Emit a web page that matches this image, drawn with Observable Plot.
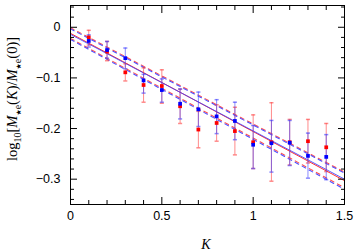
<!DOCTYPE html>
<html><head><meta charset="utf-8">
<script src="https://cdn.jsdelivr.net/npm/d3@7"></script>
<script src="https://cdn.jsdelivr.net/npm/@observablehq/plot@0.6"></script>
<style>body{margin:0;background:#fff} #chart{width:354px;height:251px}</style>
</head><body><div id="chart"></div>
<script>
// ---- data ----
const K        = [0.1, 0.2, 0.3, 0.4, 0.5, 0.6, 0.7, 0.8, 0.9, 1.0, 1.1, 1.2, 1.3, 1.4];
const redVal   = [-0.020, -0.048, -0.089, -0.114, -0.116, -0.156, -0.202, -0.189, -0.205, -0.227, -0.227, -0.227, -0.225, -0.237];
const redHi    = [-0.006, -0.028, -0.072, -0.080, -0.084, -0.122, -0.166, -0.153, -0.158, -0.173, -0.149, -0.182, -0.182, -0.190];
const redLo    = [-0.035, -0.066, -0.106, -0.148, -0.150, -0.190, -0.238, -0.225, -0.252, -0.279, -0.304, -0.272, -0.268, -0.285];
const blueVal  = [-0.027, -0.045, -0.061, -0.105, -0.124, -0.151, -0.162, -0.176, -0.185, -0.232, -0.229, -0.228, -0.254, -0.256];
const blueHi   = [-0.015, -0.028, -0.041, -0.093, -0.102, -0.122, -0.128, -0.143, -0.148, -0.194, -0.184, -0.184, -0.209, -0.212];
const blueLo   = [-0.039, -0.061, -0.082, -0.130, -0.148, -0.181, -0.196, -0.210, -0.222, -0.279, -0.286, -0.273, -0.298, -0.301];
// fitted lines, values at the two ends K = 0 and K = 1.5
const fitK       = [0, 1.5];
const redFit     = [-0.012, -0.303];
const blueFit    = [-0.014, -0.300];
const redUpper   = [-0.001, -0.286];
const redLower   = [-0.022, -0.317];
const blueUpper  = [-0.003, -0.288];
const blueLower  = [-0.024, -0.320];
// ticks
const xMajor = [0, 0.5, 1, 1.5];
const xMajorLabels = ["0", "0.5", "1", "1.5"];
const xMinor = [0.1, 0.2, 0.3, 0.4, 0.6, 0.7, 0.8, 0.9, 1.1, 1.2, 1.3, 1.4];
const yMajor = [0, -0.1, -0.2, -0.3];
const yMajorLabels = ["0", "\u22120.1", "\u22120.2", "\u22120.3"];
const yMinor = [0.04, 0.02, -0.02, -0.04, -0.06, -0.08, -0.12, -0.14, -0.16, -0.18, -0.22, -0.24, -0.26, -0.28, -0.32, -0.34];

// ---- tables ----
const pts = K.map((k, i) => ({K: k, red: redVal[i], redHi: redHi[i], redLo: redLo[i], blue: blueVal[i], blueHi: blueHi[i], blueLo: blueLo[i]}));
const line = (arr) => fitK.map((k, i) => ({K: k, v: arr[i]}));

const RED = "#ff0000", BLUE = "#0000ff";
const RED_BAR = "rgba(255,60,60,0.6)", BLUE_BAR = "rgba(60,60,255,0.6)";
const capSymbol = {draw(ctx, size) { const w = Math.sqrt(size) / 2; ctx.moveTo(-w, 0); ctx.lineTo(w, 0); }};
const fmtX = (d) => xMajorLabels[xMajor.indexOf(d)];
const fmtY = (d) => yMajorLabels[yMajor.indexOf(d)];
const none = () => "";

const plot = Plot.plot({
  width: 354, height: 251,
  marginLeft: 70, marginRight: 10, marginTop: 5, marginBottom: 47,
  x: {domain: [0, 1.5]},
  y: {domain: [-0.35, 0.043]},
  style: {fontFamily: "Liberation Sans, Arial, sans-serif", fontSize: "12px", background: "#fff", color: "#000"},
  marks: [
    // dashed bands
    Plot.line(line(redUpper), {x: "K", y: "v", stroke: "#ff5050", strokeWidth: 1.1, strokeDasharray: "4,4"}),
    Plot.line(line(blueUpper), {x: "K", y: "v", stroke: "#5050ff", strokeWidth: 1.1, strokeDasharray: "4,4"}),
    Plot.line(line(redLower), {x: "K", y: "v", stroke: "#ff5050", strokeWidth: 1.1, strokeDasharray: "4,4"}),
    Plot.line(line(blueLower), {x: "K", y: "v", stroke: "#5050ff", strokeWidth: 1.1, strokeDasharray: "4,4"}),
    // solid fits
    Plot.line(line(redFit), {x: "K", y: "v", stroke: "#ff3030", strokeWidth: 1}),
    Plot.line(line(blueFit), {x: "K", y: "v", stroke: "#4040ff", strokeWidth: 1, strokeOpacity: 0.85}),
    // error bars
    Plot.ruleX(pts, {x: "K", y1: "redLo", y2: "redHi", stroke: RED_BAR, strokeWidth: 1}),
    Plot.dot(pts, {x: "K", y: "redLo", symbol: capSymbol, r: 2.3, stroke: RED_BAR, fill: "none"}),
    Plot.dot(pts, {x: "K", y: "redHi", symbol: capSymbol, r: 2.3, stroke: RED_BAR, fill: "none"}),
    Plot.ruleX(pts, {x: "K", y1: "blueLo", y2: "blueHi", stroke: BLUE_BAR, strokeWidth: 1}),
    Plot.dot(pts, {x: "K", y: "blueLo", symbol: capSymbol, r: 2.3, stroke: BLUE_BAR, fill: "none"}),
    Plot.dot(pts, {x: "K", y: "blueHi", symbol: capSymbol, r: 2.3, stroke: BLUE_BAR, fill: "none"}),
    // points
    Plot.dot(pts, {x: "K", y: "red", symbol: "square", r: 2.1, fill: RED, stroke: "none"}),
    Plot.dot(pts, {x: "K", y: "blue", symbol: "square", r: 2.1, fill: BLUE, stroke: "none"}),
    // frame and inward ticks
    Plot.frame({stroke: "#000", strokeWidth: 1}),
    Plot.axisX(xMajor, {anchor: "bottom", tickSize: -7, tickFormat: none, label: null}),
    Plot.axisX(xMinor, {anchor: "bottom", tickSize: -4, tickFormat: none, label: null}),
    Plot.axisX(xMajor, {anchor: "top", tickSize: -7, tickFormat: none, label: null}),
    Plot.axisX(xMinor, {anchor: "top", tickSize: -4, tickFormat: none, label: null}),
    Plot.axisY(yMajor, {anchor: "left", tickSize: -7, tickFormat: none, label: null}),
    Plot.axisY(yMinor, {anchor: "left", tickSize: -4, tickFormat: none, label: null}),
    Plot.axisY(yMajor, {anchor: "right", tickSize: -7, tickFormat: none, label: null}),
    Plot.axisY(yMinor, {anchor: "right", tickSize: -4, tickFormat: none, label: null}),
    // tick labels
    Plot.axisX(xMajor, {anchor: "bottom", tickSize: 0, tickPadding: 7, tickFormat: fmtX, label: null, fontSize: 12.5}),
    Plot.axisY(yMajor, {anchor: "left", tickSize: 0, tickPadding: 10, tickFormat: fmtY, label: null, fontSize: 12.5})
  ]
});
document.getElementById("chart").appendChild(plot);

// axis titles with subscripts
const svg = d3.select(plot);
const yl = svg.append("text")
  .attr("transform", "translate(17,99) rotate(-90)")
  .attr("text-anchor", "middle")
  .style("font-family", "Liberation Serif, Times New Roman, serif")
  .style("font-size", "14.5px")
  .attr("fill", "#000");
const sub = (sel) => {
  sel.append("tspan").attr("dy", 3.5).style("font-family", "DejaVu Sans").style("font-size", "7px").text("\u2605");
  sel.append("tspan").style("font-size", "10px").text("e");
};
yl.append("tspan").text("log");
yl.append("tspan").attr("dy", 3.5).style("font-size", "10px").text("10");
yl.append("tspan").attr("dy", -3.5).text("[");
yl.append("tspan").style("font-style", "italic").text("M");
sub(yl);
yl.append("tspan").attr("dy", -3.5).text("(");
yl.append("tspan").style("font-style", "italic").text("K");
yl.append("tspan").text(")/");
yl.append("tspan").style("font-style", "italic").text("M");
sub(yl);
yl.append("tspan").attr("dy", -3.5).text("(0)]");

svg.append("text")
  .attr("x", 206).attr("y", 249)
  .attr("text-anchor", "middle")
  .style("font-family", "Liberation Serif, Times New Roman, serif")
  .style("font-size", "14px")
  .style("font-style", "italic")
  .attr("fill", "#000")
  .text("K");
</script>
</body></html>
